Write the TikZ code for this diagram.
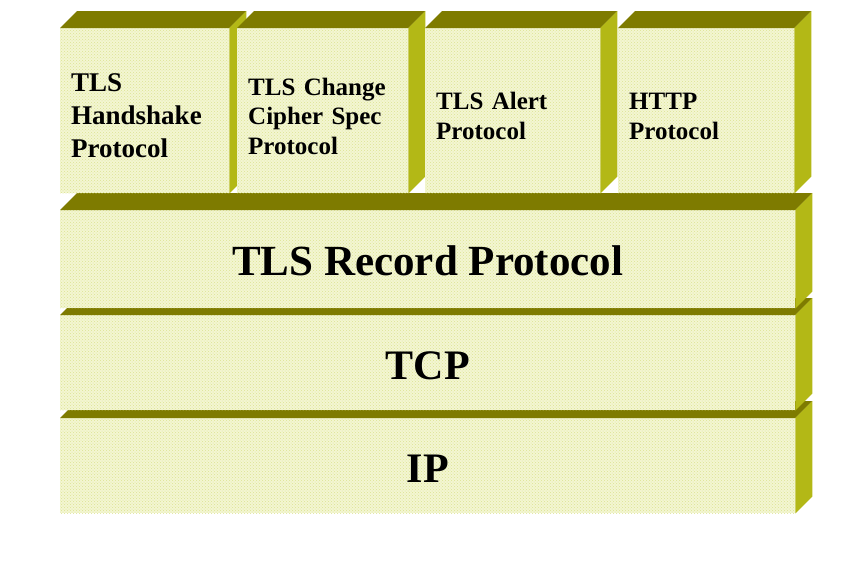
\documentclass[tikz,border=0pt]{standalone}
\usepackage{fontspec}
\setmainfont{Liberation Serif}
\usetikzlibrary{patterns}
\definecolor{facebase}{HTML}{F3F6D2}
\definecolor{facedot}{HTML}{DDE392}
\definecolor{topface}{HTML}{7E7B00}
\definecolor{sideface}{HTML}{B3B816}
\tikzset{
  front/.style={rectangle, inner sep=0pt, draw=none, preaction={fill=facebase},
    pattern=crosshatch dots, pattern color=facedot, text=black, anchor=north west},
  upper/.style={front, align=left, inner xsep=11pt, minimum height=165pt,
    font=\bfseries\fontsize{25}{29.5}\selectfont},
  layer/.style={front, minimum width=735pt, text height=33.5pt, text depth=0pt,
    font=\bfseries\fontsize{42}{50}\selectfont},
  topf/.style={fill=topface, draw=none},
  sidef/.style={fill=sideface, draw=none},
}
\newcommand\cubefaces[1]{%
  \fill[topf] (#1.north west) -- ++(17,-17) -- ([xshift=17pt,yshift=17pt]#1.north east) -- (#1.north east) -- cycle;
  \fill[sidef] (#1.north east) -- ++(17,-17) -- ([xshift=17pt,yshift=17pt]#1.south east) -- (#1.south east) -- cycle;}
\begin{document}
\begin{tikzpicture}[x=1pt,y=-1pt]
\useasboundingbox[fill=white] (0,0) rectangle (862,563);
% lower layers, bottom first
\node[layer, minimum height=95pt] (ip) at (60,418) {IP};
\cubefaces{ip}
\node[layer, minimum height=95pt] (tcp) at (60,315) {TCP};
\cubefaces{tcp}
\node[layer, minimum height=98pt, font=\bfseries\fontsize{43}{50}\selectfont] (rec) at (60,210) {TLS Record Protocol};
\cubefaces{rec}
% upper boxes
\node[upper, text width=147pt, font=\bfseries\fontsize{27}{33}\selectfont] (hs) at (60,28) {\rule{0pt}{6pt}\\[-11pt]TLS\\Handshake\\Protocol};
\cubefaces{hs}
\node[upper, text width=149pt] (ccs) at (237,28) {\rule{0pt}{6pt}\\[-7pt]TLS Change\\Cipher Spec\\Protocol};
\cubefaces{ccs}
\node[upper, text width=153pt] (alert) at (425,28) {\rule{0pt}{6pt}\\[-8pt]TLS Alert\\Protocol};
\cubefaces{alert}
\node[upper, text width=154pt] (http) at (618,28) {\rule{0pt}{6pt}\\[-8pt]HTTP\\Protocol};
\cubefaces{http}
\end{tikzpicture}
\end{document}
